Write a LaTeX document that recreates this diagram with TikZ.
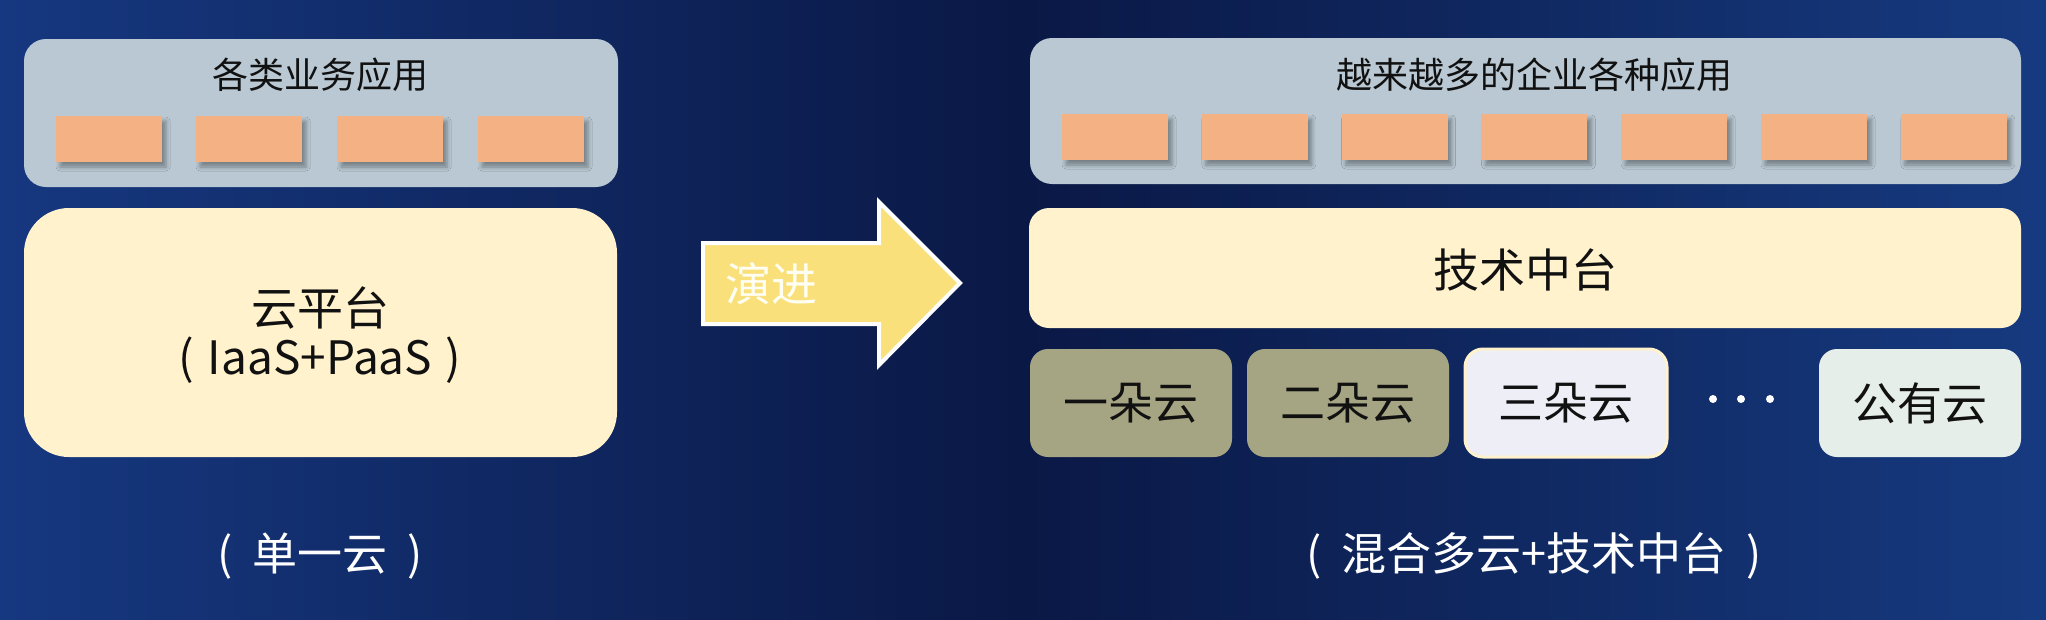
\documentclass[tikz,border=0pt]{standalone}
\usepackage{fontspec}
\newfontfamily\cjk{Noto Sans CJK SC}
\usetikzlibrary{shadows.blur}
\definecolor{bgL}{HTML}{163880}
\definecolor{bgM}{HTML}{0A1845}
\definecolor{bgR}{HTML}{163A80}
\definecolor{appbg}{HTML}{B9C8D2}
\definecolor{appor}{HTML}{F4B183}
\definecolor{cream}{HTML}{FFF2CC}
\definecolor{olive}{HTML}{A6A583}
\definecolor{lavender}{HTML}{EDEEF6}
\definecolor{mint}{HTML}{E6EEE9}
\definecolor{arrowy}{HTML}{F9E07A}
\definecolor{txt}{HTML}{111111}
\tikzset{
  panel/.style={rectangle, inner sep=0pt, outer sep=0pt, anchor=north west},
  appbox/.style={panel, fill=appbg, rounded corners=22pt},
  chip/.style={panel, fill=appor, minimum width=106pt, minimum height=46pt,
     blur shadow={shadow xshift=4pt, shadow yshift=-5pt, shadow blur radius=4pt, shadow opacity=35}},
  cloudbox/.style={panel, rounded corners=18pt, minimum width=202pt, minimum height=108pt,
     font=\cjk\fontsize{45}{50}\selectfont, text=txt},
  lbl/.style={inner sep=0pt, font=\cjk\fontsize{36}{40}\selectfont, text=txt},
  biglbl/.style={inner sep=0pt, font=\cjk\fontsize{46}{52}\selectfont, text=txt},
  caption/.style={inner sep=0pt, font=\cjk\fontsize{45}{50}\selectfont, text=white},
}
\begin{document}
\begin{tikzpicture}[x=1pt,y=-1pt]
\useasboundingbox (0,0) rectangle (2046,619);
\shade[left color=bgL, right color=bgR, middle color=bgM] (0,0) rectangle (2046,619);
% ---------- left ----------
\node[appbox, minimum width=594pt, minimum height=148pt] (apps1) at (24,39) {};
\node[lbl] (t1) at (320,75) {各类业务应用};
\foreach \i/\x in {1/56,2/196,3/337,4/478}
  \node[chip] (a1\i) at (\x,116) {};
\node[panel, fill=cream, rounded corners=45pt, minimum width=593pt, minimum height=249pt] (plat) at (24,208) {};
\node[biglbl] (platA) at (320,308) {云平台};
\node[biglbl] (platB) at (320,360) {(\hspace{0.3em}IaaS+PaaS\hspace{0.3em})};
\node[caption] (cap1) at (320,556) {(\hspace{0.45em}单一云\hspace{0.45em})};
% ---------- arrow ----------
\draw[white, line width=4pt, fill=arrowy, line join=miter]
  (703,243) -- (879,243) -- (879,202) -- (960,283) -- (879,365) -- (879,324) -- (703,324) -- cycle;
\node[inner sep=0pt, font=\cjk\fontsize{46}{50}\selectfont, text=white!95!yellow] (evo) at (771,284) {演进};
% ---------- right ----------
\node[appbox, minimum width=991pt, minimum height=146pt] (apps2) at (1030,38) {};
\node[lbl] (t2) at (1534,75) {越来越多的企业各种应用};
\foreach \i in {0,...,6}
  \node[chip] (a2\i) at (1062+\i*139.8,114) {};
\node[panel, fill=cream, rounded corners=20pt, minimum width=992pt, minimum height=120pt] (mid) at (1029,208) {};
\node[biglbl] (midt) at (1525,270) {技术中台};
\node[cloudbox, fill=olive] (c1) at (1030,349) {};
\node[cloudbox, fill=olive] (c2) at (1247,349) {};
\node[cloudbox, fill=lavender, draw=cream, line width=3pt] (c3) at (1465,349) {};
\node[cloudbox, fill=mint] (c4) at (1819,349) {};
\node[cloudbox, anchor=center] (c1t) at (c1.center) {一朵云};
\node[cloudbox, anchor=center] (c2t) at (c2.center) {二朵云};
\node[cloudbox, anchor=center] (c3t) at (c3.center) {三朵云};
\node[cloudbox, anchor=center] (c4t) at (c4.center) {公有云};
\foreach \i/\x in {1/1713,2/1741,3/1770}
  \node[circle, fill=white, inner sep=0pt, minimum size=8pt] (d\i) at (\x,399) {};
\node[caption] (cap2) at (1534,556) {(\hspace{0.45em}混合多云+技术中台\hspace{0.45em})};
\end{tikzpicture}
\end{document}
